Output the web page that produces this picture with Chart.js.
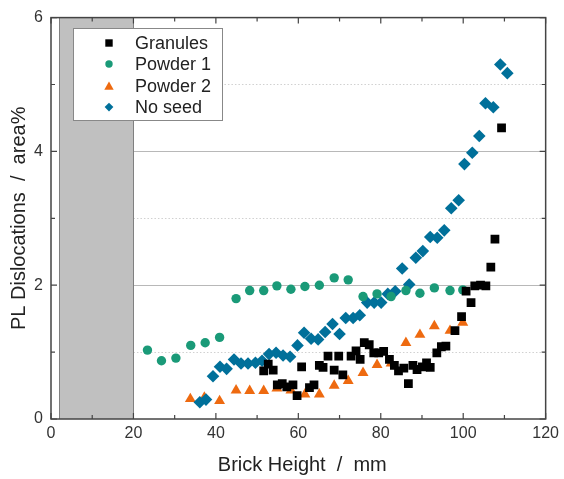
<!DOCTYPE html>
<html>
<head>
<meta charset="utf-8">
<script src="https://cdn.jsdelivr.net/npm/chart.js@4.4.0/dist/chart.umd.min.js"></script>
<style>
html,body{margin:0;padding:0;background:#fff;}
#wrap{width:564px;height:479px;position:relative;}
</style>
</head>
<body>
<div id="wrap"><canvas id="c" width="564" height="479"></canvas></div>
<script>
const seriesNames = ["Granules", "Powder 1", "Powder 2", "No seed"];
const xTickLabels = [0, 20, 40, 60, 80, 100, 120];
const yTickLabels = [0, 2, 4, 6];

const granulesX = [51.6,52.7,53.9,54.9,56.1,57.2,58.7,59.7,60.8,62.7,63.8,65.1,66.0,67.2,68.7,69.8,70.8,72.8,74.0,75.0,76.0,77.2,78.3,79.5,80.7,82.1,83.3,84.3,85.6,86.7,87.8,88.8,90.1,91.1,92.0,93.6,94.7,95.8,98.0,99.6,100.7,101.9,102.8,104.2,105.5,106.7,107.7,109.3];
const granulesY = [0.72,0.82,0.73,0.51,0.53,0.48,0.51,0.35,0.78,0.47,0.51,0.80,0.77,0.94,0.73,0.94,0.66,0.94,1.02,0.89,1.14,1.11,0.99,0.99,1.01,0.89,0.80,0.72,0.76,0.53,0.80,0.74,0.78,0.84,0.77,0.99,1.08,1.09,1.32,1.53,1.91,1.74,1.99,2.00,1.99,2.27,2.69,4.35];

const powder1X = [23.4,26.8,30.3,33.9,37.4,40.9,44.9,48.2,51.6,54.8,58.2,61.6,65.1,68.7,72.1,75.7,79.1,82.5,86.1,89.5,93.0,96.8,99.9];
const powder1Y = [1.03,0.87,0.91,1.10,1.14,1.22,1.80,1.92,1.92,1.99,1.94,1.98,2.00,2.11,2.08,1.83,1.87,1.83,1.92,1.88,1.96,1.92,1.93];

const powder2X = [33.8,37.2,40.9,44.9,48.2,51.6,54.8,58.2,61.6,65.1,68.7,72.1,75.7,79.1,82.5,86.1,89.5,93.0,96.8,99.9];
const powder2Y = [0.30,0.32,0.27,0.43,0.42,0.42,0.46,0.43,0.37,0.37,0.50,0.57,0.69,0.81,0.83,1.14,1.26,1.39,1.32,1.44];

const noSeedX = [36.1,37.6,39.3,41.0,42.6,44.4,46.1,47.8,49.6,51.2,52.9,54.6,56.3,58.0,59.8,61.4,63.1,64.8,66.5,68.3,70.0,71.5,73.3,74.9,76.7,78.4,80.1,81.7,83.5,85.2,86.9,88.5,90.2,92.0,93.7,95.4,97.1,98.9,100.3,102.2,103.9,105.4,107.3,109.0,110.7];
const noSeedY = [0.25,0.29,0.64,0.78,0.75,0.89,0.83,0.83,0.84,0.87,0.97,0.99,0.95,0.93,1.10,1.29,1.20,1.19,1.30,1.42,1.27,1.51,1.51,1.55,1.74,1.74,1.74,1.87,1.91,2.25,2.01,2.41,2.51,2.72,2.71,2.82,3.15,3.27,3.81,3.98,4.23,4.72,4.66,5.30,5.17];

const shadedRange = [2, 20];

const colors = ["#000000", "#1a9a78", "#ee6a10", "#00709a"];
const styles = ["rect", "circle", "triangle", "rectRot"];
const radii = [6.2, 4.7, 6.3, 6.3];

function pts(xs, ys){ return xs.map((x,i)=>({x:x, y:ys[i]})); }
const allX = [granulesX, powder1X, powder2X, noSeedX];
const allY = [granulesY, powder1Y, powder2Y, noSeedY];
const orders = [0, 1, 3, 2];

const datasets = seriesNames.map((n,i)=>({
  label: n,
  data: pts(allX[i], allY[i]),
  pointStyle: styles[i],
  pointRadius: radii[i],
  pointHoverRadius: radii[i],
  backgroundColor: colors[i],
  borderColor: colors[i],
  borderWidth: 0,
  order: orders[i]
}));

const FONT = "'Liberation Sans', Arial, sans-serif";

function drawMarker(ctx, style, x, y, s, color){
  ctx.fillStyle = color;
  ctx.beginPath();
  if (style === 'rect') { ctx.rect(x-s, y-s, 2*s, 2*s); }
  else if (style === 'circle') { ctx.arc(x, y, s, 0, Math.PI*2); }
  else if (style === 'triangle') { ctx.moveTo(x, y-s*1.1); ctx.lineTo(x+s*1.15, y+s*0.9); ctx.lineTo(x-s*1.15, y+s*0.9); ctx.closePath(); }
  else { ctx.moveTo(x, y-s*1.25); ctx.lineTo(x+s*1.25, y); ctx.lineTo(x, y+s*1.25); ctx.lineTo(x-s*1.25, y); ctx.closePath(); }
  ctx.fill();
}

const decor = {
  id: 'decor',
  beforeDatasetsDraw(chart){
    const {ctx, chartArea:a, scales:{x, y}} = chart;
    ctx.save();
    const gx0 = x.getPixelForValue(20);
    ctx.strokeStyle = '#d0d0d0'; ctx.lineWidth = 1; ctx.setLineDash([1.5, 2]);
    [1,3,5].forEach(v=>{ const py = Math.round(y.getPixelForValue(v))+0.5; ctx.beginPath(); ctx.moveTo(gx0, py); ctx.lineTo(a.right, py); ctx.stroke(); });
    ctx.setLineDash([]);
    ctx.strokeStyle = '#b8b8b8';
    [2,4].forEach(v=>{ const py = Math.round(y.getPixelForValue(v))+0.5; ctx.beginPath(); ctx.moveTo(gx0, py); ctx.lineTo(a.right, py); ctx.stroke(); });
    const sx0 = x.getPixelForValue(shadedRange[0]), sx1 = x.getPixelForValue(shadedRange[1]);
    ctx.fillStyle = '#c0c0c0';
    ctx.fillRect(sx0, a.top, sx1-sx0, a.bottom-a.top);
    ctx.strokeStyle = '#808080'; ctx.lineWidth = 1;
    ctx.beginPath();
    ctx.moveTo(Math.round(sx0)+0.5, a.top); ctx.lineTo(Math.round(sx0)+0.5, a.bottom);
    ctx.moveTo(Math.round(sx1)+0.5, a.top); ctx.lineTo(Math.round(sx1)+0.5, a.bottom);
    ctx.stroke();
    ctx.restore();
  },
  afterDatasetsDraw(chart){
    const {ctx, chartArea:a, scales:{x, y}} = chart;
    ctx.save();
    ctx.strokeStyle = '#444'; ctx.lineWidth = 1.5;
    ctx.strokeRect(a.left, a.top, a.right-a.left, a.bottom-a.top);
    ctx.lineWidth = 1.2;
    ctx.beginPath();
    for (let v=0; v<=120; v+=10){
      const px = x.getPixelForValue(v); const L = (v%20===0)?6:4;
      ctx.moveTo(px, a.bottom); ctx.lineTo(px, a.bottom-L);
      ctx.moveTo(px, a.top); ctx.lineTo(px, a.top+L);
    }
    for (let v=0; v<=6; v+=1){
      const py = y.getPixelForValue(v); const L = (v%2===0)?6:4;
      ctx.moveTo(a.left, py); ctx.lineTo(a.left+L, py);
      ctx.moveTo(a.right, py); ctx.lineTo(a.right-L, py);
    }
    ctx.stroke();
    ctx.fillStyle = '#222';
    ctx.font = '20px ' + FONT;
    ctx.textAlign = 'center'; ctx.textBaseline = 'middle';
    ctx.fillText('Brick Height  /  mm', (a.left+a.right)/2 + 4, 465);
    ctx.save();
    ctx.translate(19, (a.top+a.bottom)/2);
    ctx.rotate(-Math.PI/2);
    ctx.fillText('PL Dislocations  /  area%', 0, 0);
    ctx.restore();
    const lx = 73.5, ly = 28.5, lw = 149, lh = 92;
    ctx.fillStyle = '#fff'; ctx.fillRect(lx, ly, lw, lh);
    ctx.strokeStyle = '#888'; ctx.lineWidth = 1; ctx.strokeRect(lx, ly, lw, lh);
    const rows = [43, 64, 86, 107];
    ctx.font = '18px ' + FONT; ctx.textAlign = 'left'; ctx.textBaseline = 'middle';
    seriesNames.forEach((n,i)=>{
      const sz = [3.7, 3.7, 4.1, 3.5][i];
      drawMarker(ctx, styles[i], 109, rows[i], sz, colors[i]);
      ctx.fillStyle = '#222';
      ctx.fillText(n, 135, rows[i]+1);
    });
    ctx.restore();
  }
};

new Chart(document.getElementById('c'), {
  type: 'scatter',
  data: { datasets },
  options: {
    responsive: false,
    animation: false,
    layout: { padding: { left: 0, top: 16, right: 16, bottom: 0 } },
    plugins: { legend: { display: false }, tooltip: { enabled: false } },
    scales: {
      x: {
        type: 'linear', min: 0, max: 120,
        grid: { display: false, drawTicks: false },
        border: { display: false },
        afterBuildTicks: s => { s.ticks = xTickLabels.map(v=>({value:v})); },
        ticks: { color: '#333', font: { size: 16, family: FONT }, padding: 5, maxRotation: 0, autoSkip: false },
        afterFit: s => { s.height = 60; }
      },
      y: {
        type: 'linear', min: 0, max: 6,
        grid: { display: false, drawTicks: false },
        border: { display: false },
        afterBuildTicks: s => { s.ticks = yTickLabels.map(v=>({value:v})); },
        ticks: { color: '#333', font: { size: 16, family: FONT }, padding: 8, autoSkip: false },
        afterFit: s => { s.width = 51; }
      }
    }
  },
  plugins: [decor]
});
</script>
</body>
</html>
